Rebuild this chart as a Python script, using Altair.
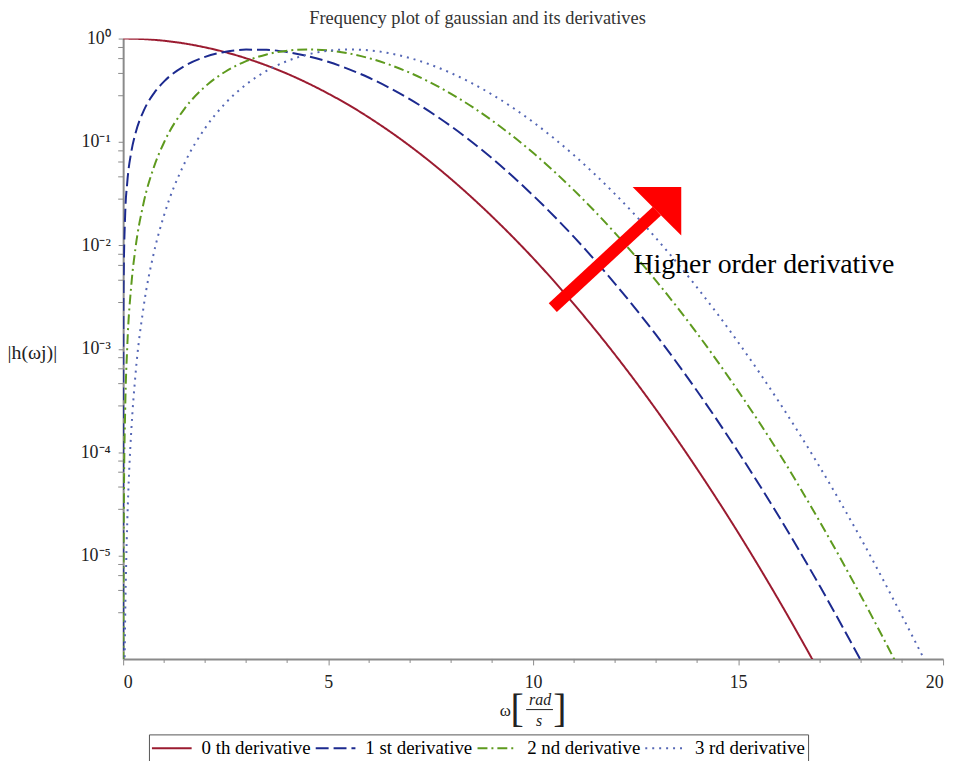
import json
import pandas as pd
import altair as alt

# ---------------- data ----------------
series_names = ["0 th derivative", "1 st derivative", "2 nd derivative", "3 rd derivative"]
series_colors = ["#9B1B30", "#1C2A8F", "#5E9A1E", "#5567B5"]
series_dashes = [[1, 0], [13, 5], [10, 4, 2, 4], [2, 5]]

w0 = [0, 0.5, 1, 1.5, 2, 2.5, 3, 3.5, 4, 4.5, 5, 5.5, 6, 7, 8, 9, 10, 11, 12, 13, 14, 15, 16, 17]
h0 = [1.0, 0.988, 0.952, 0.896, 0.822, 0.737, 0.644, 0.549, 0.457, 0.371, 0.294, 0.228, 0.172,
      0.0911, 0.0437, 0.0190, 0.00752, 0.00269, 0.000875, 0.000258, 6.88e-5, 1.67e-5, 3.66e-6, 7.29e-7]

w1 = [0.000002, 0.00001, 0.0001, 0.001, 0.01, 0.05, 0.1, 0.2, 0.3, 0.5, 0.75, 1, 1.5, 2, 2.5, 3,
      3.5, 4, 4.5, 5, 5.5, 6, 7, 8, 9, 10, 11, 12, 13, 14, 15, 16, 17, 18]
h1 = [8.1e-7, 4.05e-6, 4.05e-5, 4.05e-4, 4.05e-3, 0.0202, 0.0404, 0.0808, 0.1209, 0.1999, 0.2953,
      0.3854, 0.5438, 0.6656, 0.7453, 0.7818, 0.7781, 0.7403, 0.6765, 0.5959, 0.5071, 0.4176, 0.2580,
      0.1416, 0.0694, 0.0304, 0.0120, 0.00425, 0.00136, 3.90e-4, 1.01e-4, 2.37e-5, 5.01e-6, 9.59e-7]

w2 = [0.003, 0.005, 0.01, 0.02, 0.05, 0.1, 0.2, 0.3, 0.5, 0.75, 1, 1.5, 2, 2.5, 3, 3.5, 4, 4.5,
      5, 5.5, 6, 7, 8, 9, 10, 11, 12, 13, 14, 15, 16, 17, 18, 19]
h2 = [9.39e-7, 2.61e-6, 1.04e-5, 4.17e-5, 2.61e-4, 1.04e-3, 4.17e-3, 9.35e-3, 0.0258, 0.0571,
      0.0994, 0.2103, 0.3432, 0.4804, 0.6047, 0.7022, 0.7634, 0.7849, 0.7682, 0.7190, 0.6460,
      0.4656, 0.2921, 0.1610, 0.0785, 0.0340, 0.01314, 0.00454, 1.41e-3, 3.91e-4, 9.77e-5,
      2.10e-5, 4.05e-6, 7.1e-7]

w3 = [0.035, 0.04, 0.05, 0.075, 0.1, 0.15, 0.2, 0.3, 0.5, 0.75, 1, 1.5, 2, 2.5, 3, 3.5, 4, 4.5,
      5, 5.5, 6, 7, 8, 9, 10, 11, 12, 13, 14, 15, 16, 17, 18, 19, 20]
h3 = [8.88e-7, 1.33e-6, 2.59e-6, 8.74e-6, 2.07e-5, 6.99e-5, 1.65e-4, 5.57e-4, 2.56e-3, 8.50e-3,
      0.0197, 0.0626, 0.1362, 0.2383, 0.3600, 0.4877, 0.6061, 0.7010, 0.7623, 0.7848, 0.7692,
      0.6469, 0.4637, 0.2875, 0.1557, 0.0742, 0.0313, 0.01172, 3.91e-3, 1.16e-3, 3.05e-4,
      7.1e-5, 1.45e-5, 2.6e-6, 4.3e-7]

x_major_ticks = [0, 5, 10, 15, 20]
x_minor_ticks = [v for v in range(1, 20) if v % 5 != 0]
y_major_ticks = [1, 0.1, 0.01, 0.001, 1e-4, 1e-5]
y_tick_labels = ["10⁰", "10⁻¹", "10⁻²", "10⁻³", "10⁻⁴", "10⁻⁵"]
y_minor_ticks = [d * m for d in [0.1, 0.01, 0.001, 1e-4, 1e-5, 1e-6] for m in [2.8, 4.6, 6.4, 8.2]]

title_text = "Frequency plot of gaussian and its derivatives"
y_title = "|h(ωj)|"
arrow_label = "Higher order derivative"
arrow_w = [10.48, 13.02]
arrow_h = [2.5e-3, 0.0214]
label_w = [12.45]
label_h = [5.42e-3]

FONT = "Liberation Serif"
AXC = "#8a8a8a"
TXT = "#222222"

rows = []
for name, ws, hs in zip(series_names, [w0, w1, w2, w3], [h0, h1, h2, h3]):
    for w, h in zip(ws, hs):
        rows.append({"series": name, "w": w, "h": h})
df = pd.DataFrame(rows)

x_scale = alt.Scale(domain=[0, 20], nice=False, zero=False)
y_scale = alt.Scale(type="log", domain=[1e-6, 1], nice=False)

legend = alt.Legend(title=None, orient="none", legendX=26, legendY=701, direction="horizontal")

label_expr = json.dumps(y_tick_labels, ensure_ascii=False) + "[round(-log(datum.value)/LN10)]"

x_axis = alt.Axis(values=x_major_ticks, format="d", title=None, tickSize=6, labelPadding=9)
y_axis = alt.Axis(
    values=y_major_ticks, labelExpr=label_expr, title=y_title, titleAngle=0, titleX=-117,
    titleY=316, titleAlign="left", titleBaseline="middle", tickSize=5, labelPadding=8)

curves = alt.Chart(df).mark_line(clip=True, strokeWidth=2, interpolate="monotone").encode(
    x=alt.X("w:Q", scale=x_scale, axis=x_axis),
    y=alt.Y("h:Q", scale=y_scale, axis=y_axis),
    color=alt.Color("series:N", scale=alt.Scale(domain=series_names, range=series_colors), legend=legend),
    strokeDash=alt.StrokeDash("series:N", scale=alt.Scale(domain=series_names, range=series_dashes), legend=legend),
)

xminor = alt.Chart(pd.DataFrame({"w": x_minor_ticks})).mark_rule(color=AXC, strokeWidth=1).encode(
    x=alt.X("w:Q", scale=x_scale, axis=x_axis), y=alt.value(625), y2=alt.value(629))
yminor = alt.Chart(pd.DataFrame({"h": y_minor_ticks})).mark_rule(color=AXC, strokeWidth=1).encode(
    y=alt.Y("h:Q", scale=y_scale, axis=y_axis), x=alt.value(-5), x2=alt.value(0))

arrow_df = pd.DataFrame({"w": arrow_w, "h": arrow_h})
shaft = alt.Chart(arrow_df).mark_line(color="#FF0000", strokeWidth=12, strokeCap="butt").encode(
    x=alt.X("w:Q", scale=x_scale, axis=x_axis), y=alt.Y("h:Q", scale=y_scale, axis=y_axis))
head = alt.Chart(arrow_df.iloc[[1]]).mark_point(
    shape="M1,-1 L-1,-1 L1,1 Z", size=2401, filled=True, color="#FF0000", opacity=1, strokeWidth=0
).encode(x=alt.X("w:Q", scale=x_scale, axis=x_axis), y=alt.Y("h:Q", scale=y_scale, axis=y_axis))

label = alt.Chart(pd.DataFrame({"w": label_w, "h": label_h, "t": [arrow_label]})).mark_text(
    align="left", baseline="alphabetic", font=FONT, fontSize=28, color="black"
).encode(x=alt.X("w:Q", scale=x_scale, axis=x_axis), y=alt.Y("h:Q", scale=y_scale, axis=y_axis), text="t:N")

# text pieces placed in pixels around the plot: chart title and the x-axis title  ω [ rad / s ]
one = pd.DataFrame({"a": [0]})
def piece(txt, px, py, fs, italic=False, baseline="middle", color=TXT):
    kw = dict(font=FONT, baseline=baseline, align="center", color=color, fontSize=fs)
    if italic:
        kw["fontStyle"] = "italic"
    return alt.Chart(one).mark_text(**kw).encode(
        x=alt.value(px), y=alt.value(py), text=alt.value(txt))

texts = [
    piece(title_text, 357, -15, 18.5, baseline="alphabetic", color="#333333"),
    piece("ω", 385, 677, 17),
    piece("[", 397, 677, 40),
    piece("]", 440, 677, 40),
    piece("rad", 420, 666, 16, True),
    piece("s", 419, 688, 16, True),
]
frac = alt.Chart(one).mark_rule(color=TXT, strokeWidth=1).encode(
    x=alt.value(406), x2=alt.value(433), y=alt.value(676))

chart = alt.layer(curves, xminor, yminor, shaft, head, label, *texts, frac).properties(
    width=826, height=625,
    autosize=alt.AutoSizeParams(type="none"),
    padding={"left": 116, "top": 28, "right": 10, "bottom": 100},
).configure_view(stroke=None).configure_axis(
    labelFont=FONT, labelFontSize=18, labelColor=TXT, titleFont=FONT, titleFontSize=20,
    titleFontWeight="normal", titleColor=TXT, domainColor=AXC, domainWidth=2, tickColor=AXC,
    grid=False,
).configure_legend(
    strokeColor="#555555", padding=3, labelFont=FONT, labelFontSize=19, labelColor="black",
    symbolType="M-2,0H2", symbolSize=400, symbolStrokeWidth=2, symbolOffset=9,
    columnPadding=1, labelOffset=19,
)

chart.save("out.html", embed_options={"renderer": "svg", "actions": False})
